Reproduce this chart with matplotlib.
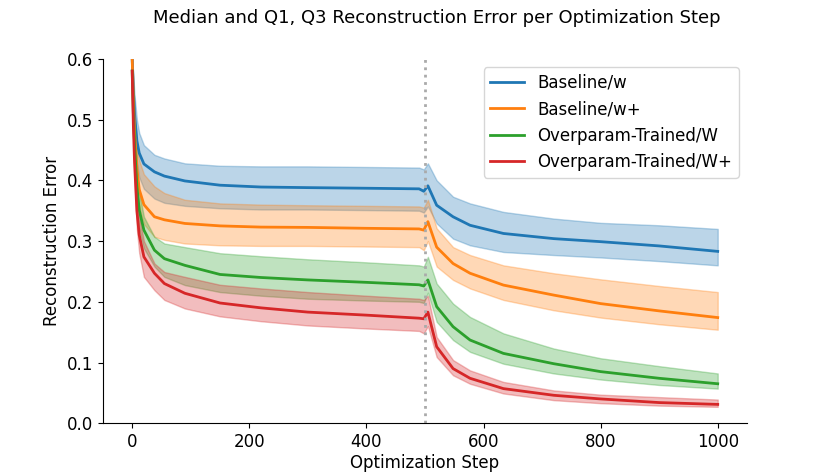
import matplotlib
matplotlib.use("Agg")
import matplotlib.pyplot as plt
import numpy as np

steps = [0, 2, 4, 8, 12, 20, 38, 55, 90, 150, 220, 300, 400, 490, 498, 505, 520, 548, 577, 634, 720, 800, 900, 1000]

# Baseline/w
base_w_med = [0.60, 0.55, 0.51, 0.465, 0.445, 0.427, 0.414, 0.407, 0.399, 0.392, 0.389, 0.388, 0.387, 0.386, 0.382, 0.391, 0.359, 0.340, 0.326, 0.3125, 0.304, 0.299, 0.292, 0.283]
base_w_q3 = [0.60, 0.57, 0.54, 0.50, 0.478, 0.458, 0.442, 0.436, 0.428, 0.424, 0.423, 0.423, 0.422, 0.421, 0.418, 0.428, 0.400, 0.373, 0.362, 0.348, 0.337, 0.330, 0.326, 0.320]
base_w_q1 = [0.60, 0.53, 0.48, 0.43, 0.405, 0.386, 0.370, 0.363, 0.358, 0.354, 0.352, 0.352, 0.351, 0.350, 0.347, 0.357, 0.329, 0.304, 0.293, 0.282, 0.277, 0.273, 0.267, 0.260]

# Baseline/w+
base_wp_med = [0.60, 0.53, 0.48, 0.42, 0.385, 0.36, 0.34, 0.335, 0.329, 0.325, 0.323, 0.3225, 0.321, 0.320, 0.318, 0.332, 0.290, 0.263, 0.247, 0.2275, 0.211, 0.197, 0.185, 0.174]
base_wp_q3 = [0.60, 0.56, 0.51, 0.46, 0.433, 0.41, 0.39, 0.379, 0.368, 0.362, 0.36, 0.359, 0.358, 0.357, 0.355, 0.368, 0.321, 0.290, 0.277, 0.260, 0.247, 0.237, 0.226, 0.216]
base_wp_q1 = [0.60, 0.50, 0.45, 0.39, 0.355, 0.328, 0.307, 0.302, 0.296, 0.293, 0.292, 0.292, 0.291, 0.290, 0.285, 0.300, 0.258, 0.236, 0.222, 0.203, 0.186, 0.174, 0.163, 0.154]

# Overparam-Trained/W
over_w_med = [0.58, 0.51, 0.46, 0.39, 0.351, 0.318, 0.285, 0.271, 0.26, 0.245, 0.24, 0.236, 0.232, 0.228, 0.226, 0.236, 0.192, 0.159, 0.137, 0.115, 0.098, 0.085, 0.074, 0.065]
over_w_q3 = [0.58, 0.53, 0.49, 0.42, 0.38, 0.34, 0.307, 0.296, 0.29, 0.28, 0.275, 0.27, 0.265, 0.26, 0.258, 0.274, 0.230, 0.197, 0.175, 0.148, 0.123, 0.107, 0.094, 0.082]
over_w_q1 = [0.58, 0.48, 0.42, 0.35, 0.32, 0.288, 0.258, 0.241, 0.2275, 0.216, 0.21, 0.205, 0.202, 0.200, 0.198, 0.215, 0.167, 0.137, 0.1175, 0.098, 0.082, 0.072, 0.063, 0.057]

# Overparam-Trained/W+
over_wp_med = [0.58, 0.49, 0.43, 0.35, 0.31, 0.274, 0.247, 0.23, 0.214, 0.198, 0.19, 0.183, 0.178, 0.173, 0.172, 0.183, 0.126, 0.090, 0.074, 0.057, 0.046, 0.040, 0.034, 0.031]
over_wp_q3 = [0.58, 0.51, 0.46, 0.38, 0.34, 0.30, 0.263, 0.249, 0.241, 0.228, 0.222, 0.216, 0.21, 0.205, 0.203, 0.210, 0.142, 0.104, 0.087, 0.068, 0.054, 0.047, 0.043, 0.039]
over_wp_q1 = [0.58, 0.46, 0.40, 0.32, 0.28, 0.241, 0.219, 0.203, 0.189, 0.176, 0.168, 0.161, 0.156, 0.152, 0.148, 0.160, 0.109, 0.079, 0.065, 0.049, 0.038, 0.033, 0.029, 0.027]

labels = ['Baseline/w', 'Baseline/w+', 'Overparam-Trained/W', 'Overparam-Trained/W+']
medians = [base_w_med, base_wp_med, over_w_med, over_wp_med]
q1s = [base_w_q1, base_wp_q1, over_w_q1, over_wp_q1]
q3s = [base_w_q3, base_wp_q3, over_w_q3, over_wp_q3]
colors = ['#1f77b4', '#ff7f0e', '#2ca02c', '#d62728']

switch_step = 500

fig = plt.figure(figsize=(8.3, 4.75), dpi=100)
ax = fig.add_axes([0.124, 0.109, 0.776, 0.767])

for i in range(len(labels)):
    ax.fill_between(steps, q1s[i], q3s[i], color=colors[i], alpha=0.3)
    ax.plot(steps, medians[i], color=colors[i], lw=2, label=labels[i])

ax.axvline(switch_step, color='#aaaaaa', ls=':', lw=2)

ax.set_ylim(0, 0.6)
ax.set_xlim(-50, 1050)
ax.set_xticks([0, 200, 400, 600, 800, 1000])
ax.set_yticks([0.0, 0.1, 0.2, 0.3, 0.4, 0.5, 0.6])
ax.tick_params(labelsize=12)
ax.set_xlabel('Optimization Step', fontsize=12, labelpad=2)
ax.set_ylabel('Reconstruction Error', fontsize=12)
ax.spines['top'].set_visible(False)
ax.spines['right'].set_visible(False)

ax.legend(loc='upper right', fontsize=12)

fig.text(437 / 830, 1 - 18 / 475, 'Median and Q1, Q3 Reconstruction Error per Optimization Step',
         ha='center', va='center', fontsize=13)

fig.savefig('out.png', dpi=100)
